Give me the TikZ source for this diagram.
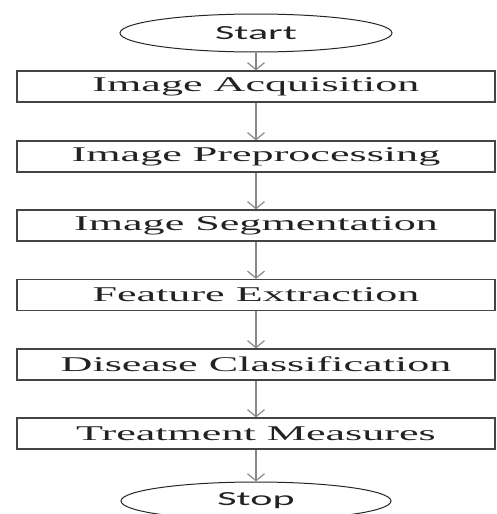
\documentclass[tikz,border=0pt]{standalone}
\usepackage{graphicx}
\usepackage{fontspec}
\setmainfont{Liberation Serif}
\newfontfamily\termfont{Carlito}
\usetikzlibrary{shapes.geometric,arrows.meta}
\newcommand\wideA[1]{\scalebox{2.1}[1]{#1}}
\definecolor{txt}{HTML}{222222}
\definecolor{boxline}{HTML}{444444}
\definecolor{arrowline}{HTML}{888888}
\tikzset{
  stepbox/.style={draw=boxline, line width=1.2pt, rectangle, minimum width=478pt, minimum height=31pt, inner sep=0pt, text=txt, font=\fontsize{21}{24}\selectfont},
  termbox/.style={draw=black!85, line width=1pt, ellipse, minimum width=272pt, minimum height=38pt, inner sep=0pt, text=txt, font=\termfont\fontsize{20}{24}\selectfont},
  flow/.style={draw=arrowline, line width=1.2pt, -{Straight Barb[length=7pt,width=17pt]}}
}
\begin{document}
\begin{tikzpicture}[x=1pt,y=-1pt]
\useasboundingbox (0,0) rectangle (496,514);
\node[termbox] (start) at (256,33) {\wideA{Start}};
\node[stepbox] (acq) at (256,86.5) {\wideA{Image Acquisition}};
\node[stepbox] (pre) at (256,156.5) {\wideA{Image Preprocessing}};
\node[stepbox] (seg) at (256,225.5) {\wideA{Image Segmentation}};
\node[stepbox] (fea) at (256,295) {\wideA{Feature Extraction}};
\node[stepbox] (dis) at (256,364.5) {\wideA{Disease Classification}};
\node[stepbox] (tre) at (256,433.5) {\wideA{Treatment Measures}};
\node[termbox, minimum width=270pt] (stop) at (256,501) {\wideA{Stop}};
\draw[flow] (start) -- (acq);
\draw[flow] (acq) -- (pre);
\draw[flow] (pre) -- (seg);
\draw[flow] (seg) -- (fea);
\draw[flow] (fea) -- (dis);
\draw[flow] (dis) -- (tre);
\draw[flow] (tre) -- (stop);
\end{tikzpicture}
\end{document}
